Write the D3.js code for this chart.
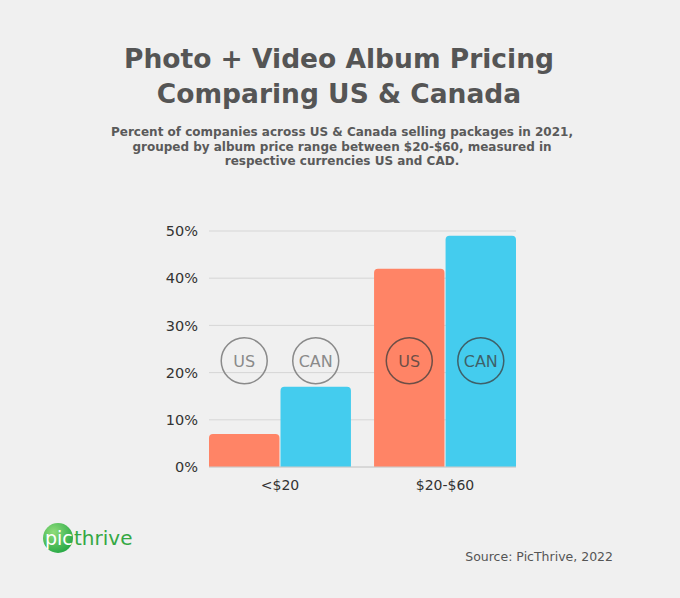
<!DOCTYPE html>
<html>
<head>
<meta charset="utf-8">
<script src="https://cdn.jsdelivr.net/npm/d3@7"></script>
<style>
  html, body { margin: 0; padding: 0; background: #f0f0f0; }
  svg { display: block; font-family: "DejaVu Sans", sans-serif; }
</style>
</head>
<body>
<svg id="chart" width="680" height="598"></svg>
<script>
// chart data
var categories = ["<$20", "$20-$60"];
var seriesNames = ["US", "CAN"];
var usValues = [7, 42];
var canValues = [17, 49];
var yTicks = [0, 10, 20, 30, 40, 50];

var titleLines = ["Photo + Video Album Pricing", "Comparing US & Canada"];
var subtitleLines = [
	"Percent of companies across US & Canada selling packages in 2021,",
	"grouped by album price range between $20-$60, measured in",
	"respective currencies US and CAD."
];
var sourceText = "Source: PicThrive, 2022";

var colors = { US: "#ff8466", CAN: "#44ccee" };

var svg = d3.select("#chart");
var margin = { left: 209, right: 164, top: 231, bottom: 131 };
var width = 680 - margin.left - margin.right;
var height = 598 - margin.top - margin.bottom;

svg.append("rect").attr("width", 680).attr("height", 598).attr("fill", "#f0f0f0");

// titles
svg.selectAll("text.title")
	.data(titleLines)
	.enter().append("text")
	.attr("class", "title")
	.attr("x", 339)
	.attr("y", function(d, i) { return 68 + i * 35; })
	.attr("text-anchor", "middle")
	.attr("font-size", 26.5)
	.attr("font-weight", "bold")
	.attr("fill", "#555555")
	.text(function(d) { return d; });

svg.selectAll("text.subtitle")
	.data(subtitleLines)
	.enter().append("text")
	.attr("class", "subtitle")
	.attr("x", 342)
	.attr("y", function(d, i) { return 136 + i * 14.5; })
	.attr("text-anchor", "middle")
	.attr("font-size", 12)
	.attr("font-weight", "bold")
	.attr("fill", "#5a5a5a")
	.text(function(d) { return d; });

var g = svg.append("g").attr("transform", "translate(" + margin.left + "," + margin.top + ")");

var x0 = d3.scaleBand().domain(categories).range([0, width]).paddingInner(0.14);
var x1 = d3.scaleBand().domain(seriesNames).range([0, x0.bandwidth()]).paddingInner(0.015);
var y = d3.scaleLinear().domain([0, 50]).range([height, 0]);

// gridlines
g.append("g")
	.selectAll("line")
	.data(yTicks)
	.enter().append("line")
	.attr("x1", 0)
	.attr("x2", width)
	.attr("y1", function(d) { return y(d); })
	.attr("y2", function(d) { return y(d); })
	.attr("stroke", "#d6d6d6")
	.attr("stroke-width", 1);

// y axis labels
var yAxis = d3.axisLeft(y)
	.tickValues(yTicks)
	.tickSize(0)
	.tickPadding(11)
	.tickFormat(function(d) { return d + "%"; });

g.append("g")
	.call(yAxis)
	.call(function(a) {
		a.select(".domain").remove();
		a.selectAll("text")
			.attr("font-size", 14.5)
			.attr("font-family", "DejaVu Sans, sans-serif")
			.attr("fill", "#333333");
	});

// bars
var rows = categories.map(function(c, i) {
	return { cat: c, values: [
		{ key: "US", value: usValues[i] },
		{ key: "CAN", value: canValues[i] }
	] };
});

var groups = g.selectAll("g.group")
	.data(rows)
	.enter().append("g")
	.attr("class", "group")
	.attr("transform", function(d) { return "translate(" + x0(d.cat) + ",0)"; });

groups.selectAll("path.bar")
	.data(function(d) { return d.values; })
	.enter().append("path")
	.attr("class", "bar")
	.attr("fill", function(d) { return colors[d.key]; })
	.attr("d", function(d) {
		var bx = x1(d.key), bw = x1.bandwidth(), by = y(d.value), bh = height - by, r = 4;
		return "M" + bx + "," + (by + bh) +
			"V" + (by + r) +
			"Q" + bx + "," + by + " " + (bx + r) + "," + by +
			"H" + (bx + bw - r) +
			"Q" + (bx + bw) + "," + by + " " + (bx + bw) + "," + (by + r) +
			"V" + (by + bh) + "Z";
	});

// baseline
g.append("line")
	.attr("x1", 0).attr("x2", width)
	.attr("y1", height).attr("y2", height)
	.attr("stroke", "#cccccc");

// legend badges
groups.each(function(row, gi) {
	var badge = d3.select(this).selectAll("g.badge")
		.data(row.values)
		.enter().append("g")
		.attr("class", "badge")
		.attr("transform", function(d) {
			return "translate(" + (x1(d.key) + x1.bandwidth() / 2) + "," + y(22.5) + ")";
		});
	var ink = gi === 0 ? "#8a8a8a" : "rgba(60,60,60,0.75)";
	badge.append("circle")
		.attr("r", 23)
		.attr("fill", "none")
		.attr("stroke", ink)
		.attr("stroke-width", 1.5);
	badge.append("text")
		.attr("text-anchor", "middle")
		.attr("dy", "0.36em")
		.attr("font-size", 16)
		.attr("fill", ink)
		.text(function(d) { return d.key; });
});

// x axis labels
g.append("g")
	.attr("transform", "translate(0," + height + ")")
	.call(d3.axisBottom(x0).tickSize(0).tickPadding(13))
	.call(function(a) {
		a.select(".domain").remove();
		a.selectAll("text")
			.attr("font-size", 14)
			.attr("font-family", "DejaVu Sans, sans-serif")
			.attr("fill", "#333333");
	});

// logo
var grad = svg.append("defs").append("radialGradient")
	.attr("id", "logoGrad").attr("cx", "35%").attr("cy", "30%").attr("r", "75%");
grad.append("stop").attr("offset", "0%").attr("stop-color", "#8fdc7a");
grad.append("stop").attr("offset", "100%").attr("stop-color", "#26a845");

var logo = svg.append("g").attr("class", "logo");
logo.append("circle")
	.attr("cx", 58).attr("cy", 538).attr("r", 15)
	.attr("fill", "url(#logoGrad)");
logo.append("text")
	.attr("x", 45).attr("y", 545)
	.attr("font-size", 19)
	.attr("fill", "#ffffff")
	.text("pic");
logo.append("text")
	.attr("x", 74).attr("y", 545)
	.attr("font-size", 20)
	.attr("fill", "#34a844")
	.text("thrive");

// source
svg.append("text")
	.attr("x", 613).attr("y", 561)
	.attr("text-anchor", "end")
	.attr("font-size", 12.5)
	.attr("fill", "#555555")
	.text(sourceText);
</script>
</body>
</html>
